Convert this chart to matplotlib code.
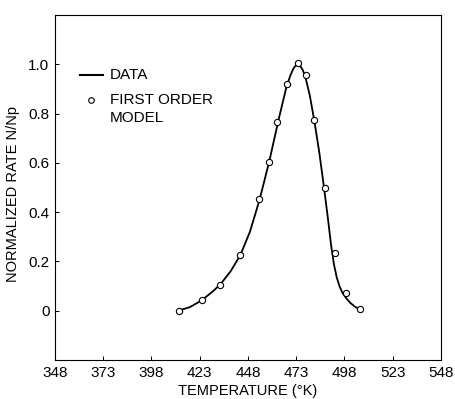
import matplotlib
matplotlib.use('Agg')
from matplotlib import pyplot as plt

plt.rcParams['font.family'] = ['Liberation Sans', 'DejaVu Sans']

# measured curve ("DATA")
line_temp = [412, 418, 424, 430, 434, 439, 444, 449, 454, 459, 464, 468, 470, 471.5, 473,
             474, 475, 476.5, 478, 480, 482.4, 485, 487.4, 489.5, 491, 492.5, 494, 495.5,
             497, 499, 501, 503.5, 506]
line_rate = [0.0, 0.015, 0.042, 0.08, 0.11, 0.16, 0.225, 0.32, 0.45, 0.605, 0.78, 0.91,
             0.955, 0.982, 0.998, 1.002, 0.995, 0.975, 0.94, 0.875, 0.77, 0.64, 0.50, 0.37,
             0.27, 0.19, 0.135, 0.098, 0.072, 0.05, 0.032, 0.016, 0.005]

# first order model points
model_temp = [412, 424, 433.5, 443.9, 453.9, 458.7, 463.2, 468.4, 473.9, 477.9, 482.4,
              487.9, 492.9, 498.6, 506]
model_rate = [0.0, 0.045, 0.106, 0.225, 0.454, 0.604, 0.767, 0.92, 1.004, 0.958, 0.772,
              0.496, 0.234, 0.07, 0.007]

xticks = [348, 373, 398, 423, 448, 473, 498, 523, 548]
yticks = [0, 0.2, 0.4, 0.6, 0.8, 1.0]
ytick_labels = ['0', '0.2', '0.4', '0.6', '0.8', '1.0']

fig = plt.figure(figsize=(4.56, 3.99), dpi=100)
ax = fig.add_axes([0.1206, 0.0977, 0.8464, 0.8647])

ax.plot(line_temp, line_rate, color='black', lw=1.3)
ax.plot(model_temp, model_rate, 'o', ms=4.5, mfc='white', mec='black', mew=0.8)

ax.set_xlim(348, 548)
ax.set_ylim(-0.2, 1.2)
ax.set_xticks(xticks)
ax.set_xticklabels([str(t) for t in xticks])
ax.set_yticks(yticks)
ax.set_yticklabels(ytick_labels)
ax.tick_params(direction='in', length=3, width=0.7, labelsize=11, pad=4, colors='black')
for s in ax.spines.values():
    s.set_linewidth(0.8)

ax.set_xlabel('TEMPERATURE (°K)', fontsize=10.5)
ax.set_ylabel('NORMALIZED RATE N/Np', fontsize=10.5)
ax.xaxis.set_label_coords(0.5, -0.07)
ax.yaxis.set_label_coords(-0.09, 0.48)

# legend keys
ax.plot([0.065, 0.124], [0.826, 0.826], color='black', lw=1.5, transform=ax.transAxes)
ax.plot([0.093], [0.754], 'o', ms=4, mfc='white', mec='black', mew=0.8, transform=ax.transAxes)
ax.text(0.142, 0.826, 'DATA', fontsize=11, va='center', transform=ax.transAxes)
ax.text(0.142, 0.754, 'FIRST ORDER', fontsize=11, va='center', transform=ax.transAxes)
ax.text(0.142, 0.701, 'MODEL', fontsize=11, va='center', transform=ax.transAxes)

fig.savefig('out.png', dpi=100)
